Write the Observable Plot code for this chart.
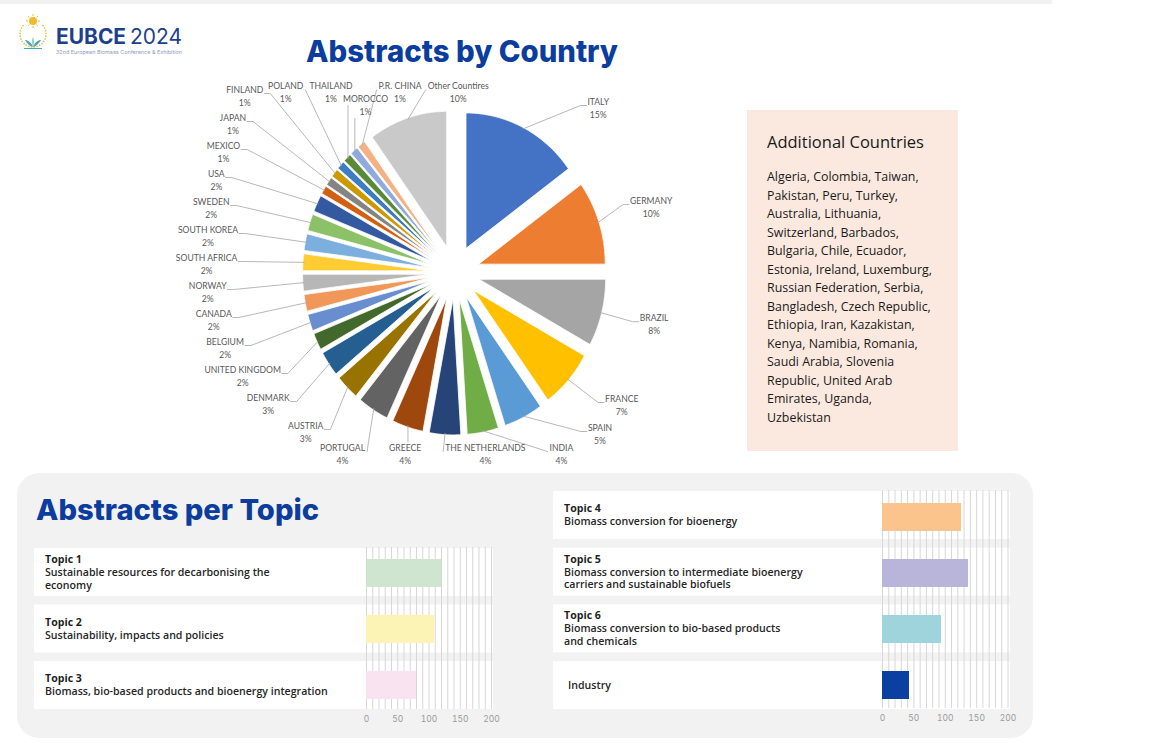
<!DOCTYPE html>
<html>
<head>
<meta charset="utf-8">
<script src="https://cdn.jsdelivr.net/npm/d3@7"></script>
<script src="https://cdn.jsdelivr.net/npm/@observablehq/plot@0.6"></script>
<style>
html, body { margin: 0; padding: 0; background: #ffffff; }
#page { position: relative; width: 1152px; height: 743px; overflow: hidden; font-family: "Open Sans", sans-serif; }
.layer { position: absolute; }
</style>
</head>
<body>
<div id="page"></div>
<script>
// ---------------- DATA ----------------
const countries = ["ITALY", "GERMANY", "BRAZIL", "FRANCE", "SPAIN", "INDIA", "THE NETHERLANDS", "GREECE", "PORTUGAL", "AUSTRIA", "DENMARK", "UNITED KINGDOM", "BELGIUM", "CANADA", "NORWAY", "SOUTH AFRICA", "SOUTH KOREA", "SWEDEN", "USA", "MEXICO", "JAPAN", "FINLAND", "POLAND", "THAILAND", "MOROCCO", "P.R. CHINA", "Other Countires"];
const countryShares = [15, 10, 8, 7, 5, 4, 4, 4, 4, 3, 3, 2, 2, 2, 2, 2, 2, 2, 2, 1, 1, 1, 1, 1, 1, 1, 10];
const countryColors = ["#4472C4", "#ED7D31", "#A5A5A5", "#FFC000", "#5B9BD5", "#70AD47", "#264478", "#9E480E", "#636363", "#997300", "#255E91", "#43682B", "#698ED0", "#F1975A", "#B7B7B7", "#FFCD33", "#7CAFDD", "#8CC168", "#335AA1", "#D26012", "#848484", "#CC9A00", "#3C7DC4", "#5A8A39", "#8FAADC", "#F4B183", "#C9C9C9"];

const additionalCountriesTitle = "Additional Countries";
const additionalCountries = [
  "Algeria, Colombia, Taiwan,",
  "Pakistan, Peru, Turkey,",
  "Australia, Lithuania,",
  "Switzerland, Barbados,",
  "Bulgaria, Chile, Ecuador,",
  "Estonia, Ireland, Luxemburg,",
  "Russian Federation, Serbia,",
  "Bangladesh, Czech Republic,",
  "Ethiopia, Iran, Kazakistan,",
  "Kenya, Namibia, Romania,",
  "Saudi Arabia, Slovenia",
  "Republic, United Arab",
  "Emirates, Uganda,",
  "Uzbekistan"
];

const topicsLeft = ["Topic 1", "Topic 2", "Topic 3"];
const topicsLeftText = [
  ["Sustainable resources for decarbonising the", "economy"],
  ["Sustainability, impacts and policies"],
  ["Biomass, bio-based products and bioenergy integration"]
];
const topicsLeftValues = [120, 109, 80];
const topicsLeftColors = ["#CFE5D0", "#FBF4B4", "#FAE3F0"];

const topicsRight = ["Topic 4", "Topic 5", "Topic 6", "Industry"];
const topicsRightText = [
  ["Biomass conversion for bioenergy"],
  ["Biomass conversion to intermediate bioenergy", "carriers and sustainable biofuels"],
  ["Biomass conversion to bio-based products", "and chemicals"],
  []
];
const topicsRightValues = [126, 137, 94, 43];
const topicsRightColors = ["#FAC48C", "#B8B4DA", "#A0D4DC", "#0B3FA0"];

const axisTicks = [0, 50, 100, 150, 200];
const axisMax = 200;

const titleCountry = "Abstracts by Country";
const titleTopic = "Abstracts per Topic";
const logoMain = "EUBCE";
const logoYear = "2024";
const logoSub = "32nd European Biomass Conference & Exhibition";

// ---------------- PAGE BACKGROUND LAYER ----------------
const page = document.getElementById("page");
const NS = "http://www.w3.org/2000/svg";
const bg = document.createElementNS(NS, "svg");
bg.setAttribute("width", 1152); bg.setAttribute("height", 743);
bg.setAttribute("class", "layer"); bg.style.left = "0px"; bg.style.top = "0px";
page.appendChild(bg);
function el(tag, attrs, parent = bg, text) {
  const e = document.createElementNS(NS, tag);
  for (const k in attrs) e.setAttribute(k, attrs[k]);
  if (text != null) e.textContent = text;
  parent.appendChild(e);
  return e;
}

// top strip
el("rect", {x: 0, y: 0, width: 1052, height: 4, fill: "#f1f1f1"});

// logo icon
const logo = el("g", {});
for (let k = 0; k < 22; k++) {
  const a = Math.PI * (0.28 + 1.44 * k / 21);
  el("circle", {cx: 33 + 13 * Math.sin(a), cy: 34 - 13 * Math.cos(a), r: 0.9, fill: k % 2 ? "#f1c54b" : "#b9cf6a"}, logo);
}
el("circle", {cx: 33, cy: 21, r: 4, fill: "#f6b929"}, logo);
for (let k = 0; k < 8; k++) {
  const a = Math.PI * 2 * k / 8;
  el("line", {x1: 33 + 5 * Math.cos(a), y1: 21 + 5 * Math.sin(a), x2: 33 + 7 * Math.cos(a), y2: 21 + 7 * Math.sin(a), stroke: "#f6b929", "stroke-width": 1}, logo);
}
el("path", {d: "M33 47 C31 42 28 40 25 40 C27 43 29 46 33 47 Z", fill: "#4aa6b8"}, logo);
el("path", {d: "M33 47 C35 42 38 40 41 40 C39 43 37 46 33 47 Z", fill: "#4aa6b8"}, logo);
el("path", {d: "M33 47 C32 43 32 40 33 37 C34 40 34 43 33 47 Z", fill: "#6bbf8e"}, logo);
el("line", {x1: 24, y1: 48.5, x2: 42, y2: 48.5, stroke: "#4aa6b8", "stroke-width": 1}, logo);

const lt = el("text", {x: 56, y: 44, "font-family": "Inter, sans-serif", "font-size": 21, fill: "#1d3f8e", textLength: 126, lengthAdjust: "spacingAndGlyphs"});
el("tspan", {"font-weight": 700}, lt, logoMain);
el("tspan", {"font-weight": 400, dx: 4}, lt, logoYear);
el("text", {x: 56, y: 54, "font-family": "Inter, sans-serif", "font-size": 5.4, fill: "#8d9cc0", textLength: 126, lengthAdjust: "spacingAndGlyphs"}, bg, logoSub);

// main title
el("text", {x: 462, y: 62, "text-anchor": "middle", "font-family": "Inter, sans-serif", "font-weight": 800, "font-size": 30, fill: "#0b3d9f", textLength: 312, lengthAdjust: "spacingAndGlyphs"}, bg, titleCountry);

// additional countries box
el("rect", {x: 747, y: 110, width: 211, height: 341, fill: "#fbe9df"});
el("text", {x: 767, y: 148, "font-family": "'Open Sans', sans-serif", "font-size": 16.5, fill: "#1a1a1a"}, bg, additionalCountriesTitle);
additionalCountries.forEach((line, i) => {
  el("text", {x: 767, y: 181 + i * 18.5, "font-family": "'Open Sans', sans-serif", "font-size": 12.4, fill: "#1a1a1a"}, bg, line);
});

// bottom panel
el("rect", {x: 17, y: 473, width: 1016, height: 265, rx: 22, ry: 22, fill: "#f2f2f2"});
el("text", {x: 36, y: 520, "font-family": "Inter, sans-serif", "font-weight": 800, "font-size": 29, fill: "#0b3d9f", textLength: 283, lengthAdjust: "spacingAndGlyphs"}, bg, titleTopic);

function cards(names, texts, x, w, top0, step, tx) {
  names.forEach((name, i) => {
    const top = top0 + i * step;
    el("rect", {x: x, y: top, width: w, height: 48, fill: "#ffffff"});
    const lines = texts[i];
    const isTopic = lines.length > 0;
    const n = isTopic ? lines.length + 1 : 1;
    const lh = 12.9;
    const first = top + 24 - (n - 1) * lh / 2 + 3.8;
    el("text", {x: isTopic ? tx : tx + 4, y: first, "font-family": "'Open Sans', sans-serif", "font-size": 10.6, "font-weight": isTopic ? 700 : 600, fill: "#1f1f1f"}, bg, name);
    lines.forEach((ln, j) => {
      el("text", {x: tx, y: first + (j + 1) * lh, "font-family": "'Open Sans', sans-serif", "font-size": 10.6, "font-weight": 600, fill: "#262626"}, bg, ln);
    });
  });
}
cards(topicsLeft, topicsLeftText, 34, 459, 548, 56.5, 45);
cards(topicsRight, topicsRightText, 553, 457, 491, 56.7, 564);

// ---------------- PIE (Plot) ----------------
const CX = 454, CY = 272, SX = 126.6, SY = 135.4, EXPLODE = 0.2;
const PL = 150, PT = 66, PW = 580, PH = 410;
const total = d3.sum(countryShares);
let acc = 0;
const slices = countries.map((name, i) => {
  const a0 = acc / total * 2 * Math.PI; acc += countryShares[i];
  const a1 = acc / total * 2 * Math.PI;
  return {name, value: countryShares[i], a0, a1, mid: (a0 + a1) / 2};
});
const slicePts = [];
for (const s of slices) {
  const ox = EXPLODE * Math.sin(s.mid), oy = EXPLODE * Math.cos(s.mid);
  slicePts.push({name: s.name, x: ox, y: oy});
  const n = Math.max(3, Math.ceil((s.a1 - s.a0) / 0.01));
  for (let k = 0; k <= n; k++) {
    const a = s.a0 + (s.a1 - s.a0) * k / n;
    slicePts.push({name: s.name, x: ox + Math.sin(a), y: oy + Math.cos(a)});
  }
  slicePts.push({name: s.name, x: ox, y: oy});
}

// label layout (pixel offsets from centre)
const LABEL_FONT_SIZE = 8.6, LABEL_FONT = "Lato";
const ctx = document.createElement("canvas").getContext("2d");
ctx.font = `${LABEL_FONT_SIZE}px ${LABEL_FONT}`;
const tw = t => ctx.measureText(t).width;
const labs = slices.map(s => ({...s, deg: s.mid * 180 / Math.PI, pct: s.value + "%", nw: tw(s.name), pw: tw(s.value + "%")}));
labs.forEach(d => d.w = Math.max(d.nw, d.pw));

function relax(arr, S, lo, hi) {
  arr.forEach((d, i) => { d.dy = Math.max(d.dy, i ? arr[i - 1].dy + S : lo); });
  for (let i = arr.length - 1; i >= 0; i--) arr[i].dy = Math.min(arr[i].dy, i < arr.length - 1 ? arr[i + 1].dy - S : hi);
}
function pushRow(arr, R, gap) {
  arr.forEach((d, i) => {
    const nat = R * Math.sin(d.mid);
    d.dx = i ? Math.max(nat, arr[i - 1].dx + arr[i - 1].w / 2 + gap + d.w / 2) : nat;
  });
}
// top row: sequential placement, crowded inner labels drop to a second line
function topRow(arr, R, gap, baseDy) {
  arr.forEach((d, i) => {
    const nat = R * Math.sin(d.mid);
    d.dy = baseDy; d.stag = false;
    if (!i) { d.dx = nat; return; }
    let lastMain = null;
    for (let j = i - 1; j >= 0; j--) if (!arr[j].stag) { lastMain = arr[j]; break; }
    const prev = arr[i - 1];
    let x0 = Math.max(nat, lastMain.dx + lastMain.nw / 2 + gap + d.nw / 2);
    if (prev.stag) x0 = Math.max(x0, prev.dx + prev.nw / 2 + gap + d.pw / 2);
    if (x0 - nat > 40 && !prev.stag && i < arr.length - 1) {
      d.stag = true; d.dy = baseDy + 13;
      d.dx = Math.max(nat, prev.dx + prev.pw / 2 + gap + d.nw / 2);
    } else d.dx = x0;
  });
}
const leftL = labs.filter(d => d.deg >= 215 && d.deg < 310).sort((a, b) => b.deg - a.deg);
leftL.forEach(d => d.dy = -210 * Math.cos(d.mid));
relax(leftL, 28, -176, 160);
leftL.forEach(d => { const ry = d.dy < 0 ? 330 : 200; d.dx = -248 * Math.sqrt(Math.max(0, 1 - (d.dy / ry) ** 2)); d.side = "left"; });

const rightL = labs.filter(d => d.deg < 165).sort((a, b) => a.deg - b.deg);
rightL.forEach(d => d.dy = -210 * Math.cos(d.mid));
relax(rightL, 29, -164, 162);
rightL.forEach(d => { d.dx = 205 * Math.sqrt(Math.max(0, 1 - (d.dy / 230) ** 2)); d.side = "right"; });

const bottomL = labs.filter(d => d.deg >= 165 && d.deg < 215).sort((a, b) => b.deg - a.deg);
pushRow(bottomL, 209, 24);
bottomL.forEach(d => { d.dy = 182; d.side = "bottom"; });

const topL = labs.filter(d => d.deg >= 310).sort((a, b) => a.deg - b.deg);
topRow(topL, 225, 6, -179.5);
topL.forEach(d => { d.side = "top"; });

const ux = px => (px - CX) / SX;
const uy = py => (CY - py) / SY;
const labelTexts = [];
const leaderPts = [];
for (const d of labs) {
  const lx = CX + d.dx, ny = CY + d.dy - 6.5, py = CY + d.dy + 6.5, base = ny + 3.5;
  labelTexts.push({x: ux(lx), y: uy(ny), t: d.name});
  labelTexts.push({x: ux(lx), y: uy(py), t: d.pct});
  const a = [CX + SX * 1.19 * Math.sin(d.mid), CY - SY * 1.19 * Math.cos(d.mid)];
  let pts;
  if (d.side === "left") { const r = lx + d.nw / 2; pts = [a, [r + 7, base], [r + 1, base]]; }
  else if (d.side === "right") { const l = lx - d.nw / 2; pts = [a, [l - 7, base], [l - 1, base]]; }
  else {
    const l = lx - d.w / 2, r = lx + d.w / 2;
    if (a[0] >= l && a[0] <= r) pts = [a, [a[0], d.side === "top" ? CY + d.dy + 12.5 : CY + d.dy - 12.5]];
    else if (a[0] < l) pts = [a, [l - 2, base]];
    else pts = [a, [r + 2, base]];
  }
  pts.forEach(p => leaderPts.push({name: d.name, x: ux(p[0]), y: uy(p[1])}));
}

const pie = Plot.plot({
  width: PW, height: PH,
  marginLeft: 0, marginRight: 0, marginTop: 0, marginBottom: 0,
  x: {domain: [ux(PL), ux(PL + PW)], axis: null},
  y: {domain: [uy(PT + PH), uy(PT)], axis: null},
  color: {domain: countries, range: countryColors},
  style: {background: "transparent", overflow: "visible"},
  marks: [
    Plot.line(slicePts, {x: "x", y: "y", z: "name", fill: "name", stroke: "#ffffff", strokeWidth: 0.8, curve: "linear"}),
    Plot.line(leaderPts, {x: "x", y: "y", z: "name", stroke: "#a6a6a6", strokeWidth: 0.8}),
    Plot.text(labelTexts, {x: "x", y: "y", text: "t", fontSize: LABEL_FONT_SIZE, fontFamily: LABEL_FONT, fill: "#595959"})
  ]
});
pie.classList.add("layer");
pie.style.left = PL + "px"; pie.style.top = PT + "px";
page.appendChild(pie);

// ---------------- BAR CHARTS (Plot) ----------------
function barPlot(cats, vals, cols, o) {
  const data = cats.map((c, i) => ({cat: c, v: vals[i]}));
  const p = Plot.plot({
    width: o.w, height: o.h,
    marginLeft: o.ml, marginRight: o.mr, marginTop: o.mt, marginBottom: o.mb,
    x: {domain: [0, axisMax], ticks: axisTicks, tickSize: 0, tickPadding: 1, label: null},
    y: {domain: cats, axis: null, paddingInner: 0.5, paddingOuter: 0.25},
    color: {domain: cats, range: cols},
    style: {background: "transparent", fontFamily: "Inter, sans-serif", fontSize: "8.5px", color: "#9b9b9b", overflow: "visible"},
    marks: [
      Plot.ruleX(d3.range(0, axisMax + 1, 10), {stroke: "#d7d7d7", strokeWidth: 1, insetTop: o.it, insetBottom: o.ib}),
      Plot.barX(data, {x: "v", y: "cat", fill: "cat"})
    ]
  });
  p.classList.add("layer");
  p.style.left = o.left + "px"; p.style.top = o.top + "px";
  page.appendChild(p);
}
barPlot(topicsLeft, topicsLeftValues, topicsLeftColors, {left: 340, top: 540, w: 180, h: 190, ml: 26, mr: 29, mt: 4, mb: 16, it: 3, ib: 5});
barPlot(topicsRight, topicsRightValues, topicsRightColors, {left: 855, top: 484, w: 180, h: 246, ml: 27, mr: 27.5, mt: 5, mb: 17, it: 1, ib: 5});
</script>
</body>
</html>
